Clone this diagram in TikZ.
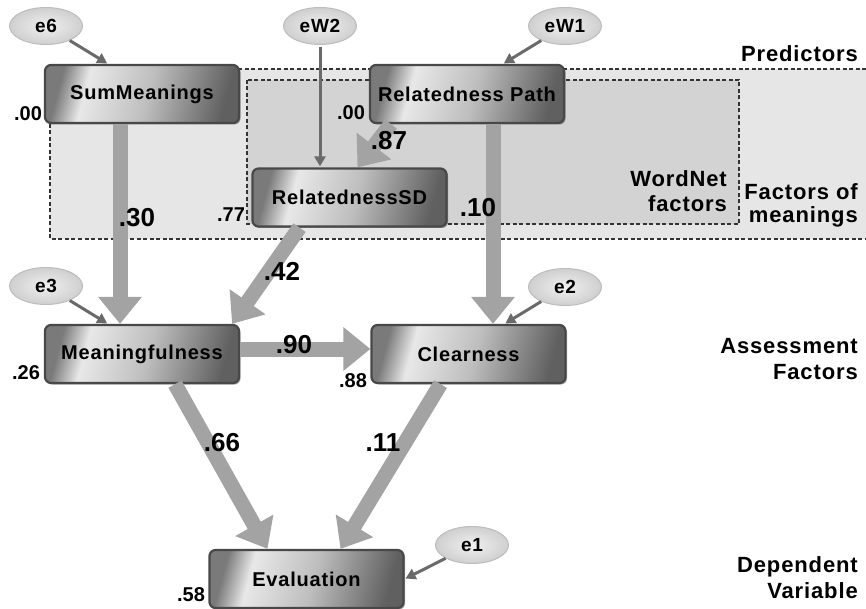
\documentclass[tikz,border=0pt]{standalone}
\usepackage{fontspec}
\setmainfont{Liberation Sans}[LetterSpace=4]
\newfontfamily\numfont{Liberation Sans}
\usetikzlibrary{arrows.meta,shapes.geometric,shadows}
\definecolor{outerfill}{HTML}{E6E6E6}
\definecolor{innerfill}{HTML}{D3D3D3}
\definecolor{arrgray}{HTML}{A3A3A3}
\definecolor{errgray}{HTML}{6A6A6A}
\definecolor{boxborder}{HTML}{484848}
\definecolor{mdark}{HTML}{7A7A7A}
\definecolor{mlight}{HTML}{E8E8E8}
\definecolor{mmid}{HTML}{BEBEBE}
\definecolor{mdarktwo}{HTML}{606060}
\definecolor{ellin}{HTML}{F0F0F0}
\definecolor{ellout}{HTML}{CFCFCF}
\definecolor{elledge}{HTML}{BDBDBD}
\pgfdeclarehorizontalshading{metal}{100bp}{color(0bp)=(mdark); color(25bp)=(mdark); color(33bp)=(mlight); color(52bp)=(mmid); color(75bp)=(mdarktwo); color(100bp)=(mdarktwo)}
\begin{document}
\begin{tikzpicture}[x=1pt,y=-1pt,
  box/.style={rectangle, rounded corners=6pt, draw=boxborder, line width=2.2pt, shade, shading=metal, shading angle=-15,
    minimum width=194pt, minimum height=58pt, inner sep=0pt, font=\fontsize{20}{22}\selectfont\bfseries,
    drop shadow={shadow xshift=1.5pt, shadow yshift=-1.5pt, opacity=0.35, fill=black}},
  err/.style={ellipse, draw=elledge, line width=1pt, inner color=ellin, outer color=ellout,
    minimum width=73pt, minimum height=37pt, inner sep=0pt, font=\fontsize{19}{20}\selectfont\bfseries},
  errarrow/.style={draw=errgray, line width=3pt, -{Triangle[length=10pt,width=11pt]}, shorten >=1pt},
  bigarrow/.style={draw=arrgray, line width=15pt, -{Triangle[length=27pt,width=42pt]}},
  coef/.style={font=\numfont\fontsize{26}{28}\selectfont\bfseries, inner sep=0pt},
  rsq/.style={font=\numfont\fontsize{20}{22}\selectfont\bfseries, inner sep=0pt},
  side/.style={font=\fontsize{22}{26}\selectfont\bfseries, inner sep=0pt, anchor=base east},
  region/.style={dash pattern=on 4pt off 2.5pt, line width=1.5pt, draw=black!80}
]
\useasboundingbox (0,0) rectangle (866,609);
% regions
\fill[outerfill] (50,69) rectangle (866,239);
\draw[region] (866,69) -- (50,69) -- (50,239) -- (866,239);
\filldraw[region, fill=innerfill] (247,80) rectangle (739,224);

% boxes
\node[box] (sm) at (142,94) {SumMeanings};
\node[box] (rp) at (467,94) {Relatedness Path};
\node[box] (rsd) at (349.5,197.5) {RelatednessSD};
\node[box] (mf) at (142,354) {Meaningfulness};
\node[box] (cl) at (468.5,354) {Clearness};
\node[box] (ev) at (306.5,579) {Evaluation};

% error terms
\node[err] (e6) at (46,26) {e6};
\node[err] (ew2) at (320,26) {eW2};
\node[err] (ew1) at (565,26) {eW1};
\node[err] (e3) at (46,286) {e3};
\node[err] (e2) at (565,287) {e2};
\node[err] (e1) at (472,545) {e1};

% error arrows
\draw[errarrow] (e6) -- ([xshift=-34pt]sm.north);
\draw[errarrow, shorten <=2pt] (ew2) -- (ew2 |- rsd.north);
\draw[errarrow] (ew1) -- ([xshift=36pt]rp.north);
\draw[errarrow] (e3) -- ([xshift=-34pt]mf.north);
\draw[errarrow] (e2) -- ([xshift=36pt]cl.north);
\draw[errarrow] (e1) -- (ev.east);

% path arrows
\draw[bigarrow] ([xshift=-22pt]sm.south) -- ([xshift=-22pt]mf.north);
\draw[bigarrow] ([xshift=26pt]rp.south) -- ([xshift=24.5pt]cl.north);
\draw[bigarrow] ([xshift=22pt]rp.south west) -- ([xshift=8pt]rsd.north);
\draw[bigarrow] ([xshift=-50pt]rsd.south) -- ([xshift=-8pt]mf.north east);
\draw[bigarrow] ([yshift=5pt]mf.east) -- ([yshift=5pt]cl.west);
\draw[bigarrow] ([xshift=33pt]mf.south) -- ([xshift=-39pt]ev.north);
\draw[bigarrow] ([xshift=-28pt]cl.south) -- ([xshift=34pt]ev.north);

% coefficients
\node[coef] (c30) at (137,218) {.30};
\node[coef] (c87) at (389,141) {.87};
\node[coef] (c10) at (478,208) {.10};
\node[coef] (c42) at (282,271) {.42};
\node[coef] (c90) at (294,345) {.90};
\node[coef] (c66) at (222,443) {.66};
\node[coef] (c11) at (383,443) {.11};

% squared multiple correlations
\node[rsq] (r1) at (28,114) {.00};
\node[rsq] (r2) at (351,113) {.00};
\node[rsq] (r3) at (231,215) {.77};
\node[rsq] (r4) at (26,373) {.26};
\node[rsq] (r5) at (353,381) {.88};
\node[rsq] (r6) at (191,595) {.58};

% side labels
\node[side] (s1) at (858,62) {Predictors};
\node[side] (s2) at (727,187) {WordNet};
\node[side] (s3) at (727,212) {factors};
\node[side] (s4) at (858,200) {Factors of};
\node[side] (s5) at (858,223) {meanings};
\node[side] (s6) at (858,353) {Assessment};
\node[side] (s7) at (858,379) {Factors};
\node[side] (s8) at (858,572) {Dependent};
\node[side] (s9) at (858,598) {Variable};
\end{tikzpicture}
\end{document}
